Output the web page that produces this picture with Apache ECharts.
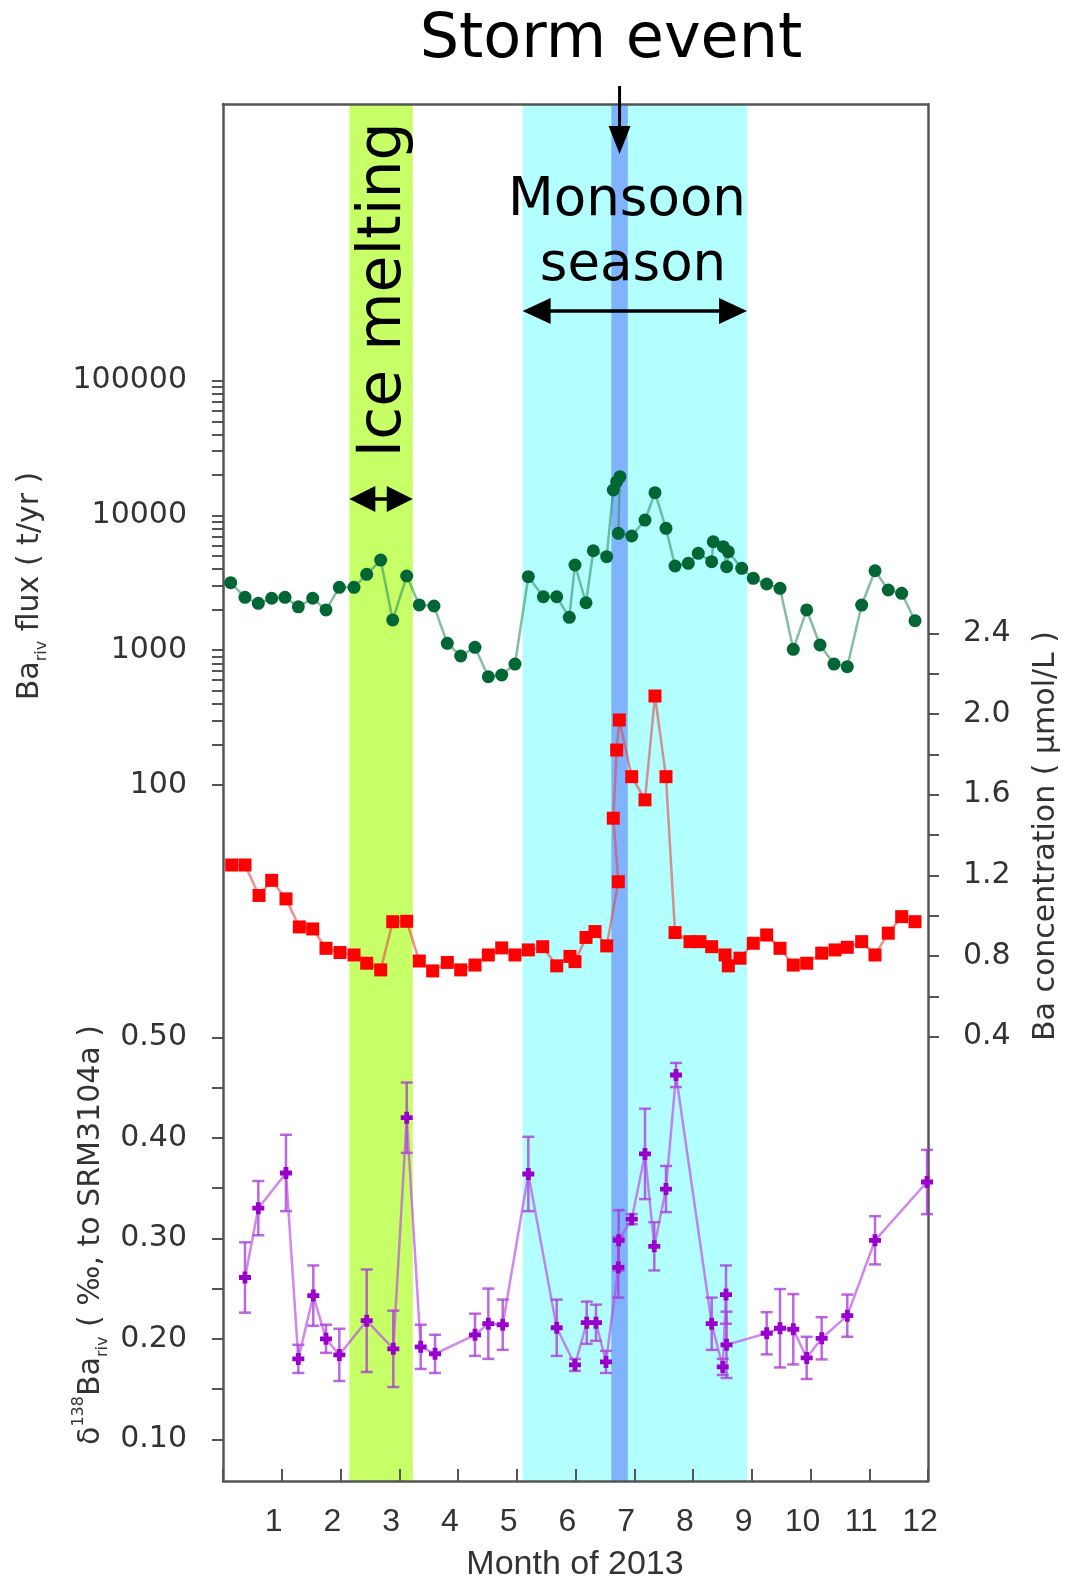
<!DOCTYPE html>
<html><head><meta charset="utf-8">
<script src="https://cdn.jsdelivr.net/npm/echarts@6/dist/echarts.min.js"></script>
<style>html,body{margin:0;padding:0;background:#fff}#c{width:1066px;height:1585px}</style>
</head><body><div id="c"></div>
<script>
// ---------------- data ----------------
const fluxMonth = [0.131,0.374,0.601,0.829,1.055,1.282,1.527,1.753,1.980,2.230,2.446,2.684,2.889,3.127,3.341,3.591,3.818,4.046,4.289,4.516,4.744,4.970,5.197,5.452,5.680,5.894,5.991,6.179,6.303,6.531,6.643,6.701,6.757,6.729,6.957,7.183,7.353,7.540,7.694,7.920,8.090,8.318,8.345,8.516,8.573,8.601,8.829,9.026,9.254,9.481,9.707,9.935,10.162,10.400,10.626,10.871,11.098,11.324,11.552,11.779];
const fluxValue = [3170,2470,2230,2430,2470,2100,2430,1990,2930,2930,3660,4670,1680,3555,2170,2130,1126,906,1051,636,655,790,3513,2495,2495,1755,4290,2252,5475,4943,15450,17800,19390,7373,7040,9250,14750,8030,4217,4416,5240,4540,6385,5865,4170,5383,4052,3418,3100,2880,1016,1990,1094,790,755,2165,3890,2798,2645,1656];

const concMonth = [0.148,0.374,0.613,0.829,1.072,1.299,1.527,1.753,1.991,2.230,2.446,2.684,2.889,3.127,3.341,3.569,3.818,4.046,4.289,4.516,4.744,4.970,5.197,5.442,5.680,5.906,5.991,6.179,6.332,6.531,6.729,6.643,6.701,6.745,6.957,7.183,7.353,7.540,7.694,7.949,8.119,8.318,8.545,8.601,8.800,9.026,9.254,9.481,9.707,9.935,10.191,10.417,10.626,10.871,11.098,11.324,11.552,11.779];
const concValue = [1.251,1.251,1.100,1.175,1.083,0.944,0.934,0.838,0.817,0.805,0.764,0.731,0.970,0.972,0.775,0.726,0.768,0.731,0.755,0.805,0.840,0.805,0.830,0.846,0.751,0.798,0.772,0.892,0.921,0.850,1.168,1.483,1.821,1.970,1.689,1.574,2.089,1.689,0.916,0.871,0.871,0.846,0.805,0.751,0.789,0.863,0.904,0.838,0.755,0.764,0.814,0.830,0.843,0.871,0.805,0.913,0.995,0.970];

const deltaMonth = [0.374,0.601,1.072,1.282,1.537,1.753,1.980,2.446,2.899,3.127,3.365,3.609,4.289,4.516,4.761,5.197,5.680,5.991,6.191,6.349,6.519,6.729,6.735,6.957,7.183,7.341,7.540,7.711,8.318,8.506,8.562,8.570,9.254,9.481,9.707,9.935,10.190,10.626,11.098,11.983];
const deltaValue = [0.261,0.330,0.365,0.180,0.243,0.200,0.184,0.218,0.190,0.420,0.192,0.185,0.204,0.215,0.214,0.364,0.211,0.174,0.216,0.216,0.177,0.271,0.298,0.319,0.384,0.292,0.349,0.4625,0.215,0.172,0.244,0.194,0.2055,0.2105,0.2095,0.181,0.2005,0.223,0.298,0.356];
const deltaErr = [0.035,0.027,0.038,0.014,0.030,0.014,0.026,0.051,0.038,0.035,0.022,0.019,0.021,0.035,0.025,0.037,0.028,0.006,0.021,0.018,0.011,0.030,0.030,0.005,0.045,0.024,0.023,0.012,0.026,0.008,0.029,0.033,0.021,0.039,0.035,0.021,0.021,0.021,0.024,0.032];

const monthTicks = [1,2,3,4,5,6,7,8,9,10,11,12];
const fluxTicks = [100,1000,10000,100000];
const concTicks = [0.4,0.8,1.2,1.6,2.0,2.4];
const deltaTicks = [0.10,0.20,0.30,0.40,0.50];

const iceMelting = [2.15, 3.23];
const monsoon = [5.10, 8.92];
const storm = [6.61, 6.89];

// ---------------- derived tick lists ----------------
const fluxMinor = [];
for (let i = 0; i < fluxTicks.length - 1; i++) for (let k = 1; k <= 9; k++) fluxMinor.push(fluxTicks[i] * k);
fluxMinor.push(fluxTicks[fluxTicks.length - 1]);
const deltaMinor = [];
for (let i = 0; i < deltaTicks.length; i++) { deltaMinor.push(deltaTicks[i]); if (i < deltaTicks.length - 1) deltaMinor.push(+((deltaTicks[i] + deltaTicks[i+1]) / 2).toFixed(3)); }
const concMinor = [];
for (let i = 0; i < concTicks.length; i++) { concMinor.push(concTicks[i]); if (i < concTicks.length - 1) concMinor.push(+((concTicks[i] + concTicks[i+1]) / 2).toFixed(3)); }

const FONT = 'DejaVu Sans';
const AX = '#555555';
const LBL = '#333333';

function renderErr(params, api) {
  const x = api.value(0), lo = api.value(1), hi = api.value(2);
  const p1 = api.coord([x, lo]), p2 = api.coord([x, hi]);
  const w = 6;
  const style = { stroke: 'rgba(165,55,215,0.75)', lineWidth: 2.5, fill: null };
  return { type: 'group', children: [
    { type: 'line', shape: { x1: p1[0], y1: p1[1], x2: p2[0], y2: p2[1] }, style },
    { type: 'line', shape: { x1: p1[0] - w, y1: p1[1], x2: p1[0] + w, y2: p1[1] }, style },
    { type: 'line', shape: { x1: p2[0] - w, y1: p2[1], x2: p2[0] + w, y2: p2[1] }, style }
  ]};
}

const chart = echarts.init(document.getElementById('c'), null, { renderer: 'canvas' });
const option = {
  animation: false,
  backgroundColor: '#ffffff',
  grid: { left: 223, right: 138, top: 104, bottom: 104, containLabel: false, outerBoundsMode: 'none' },
  xAxis: [
    { type: 'value', min: 0, max: 12, interval: 1, position: 'bottom', z: 3,
      axisLine: { show: true, onZero: false, lineStyle: { color: AX, width: 2.5 } },
      axisTick: { show: true, inside: true, length: 12, lineStyle: { color: AX, width: 2 } },
      axisLabel: { margin: 25, fontFamily: 'Liberation Sans', fontSize: 32, color: LBL, padding: [0, 16, 0, 0],
        formatter: v => (monthTicks.indexOf(v) >= 0 ? String(v) : '') },
      splitLine: { show: false } },
    { type: 'value', min: 0, max: 12, position: 'top', z: 3,
      axisLine: { show: true, onZero: false, lineStyle: { color: AX, width: 2.5 } },
      axisTick: { show: false }, axisLabel: { show: false }, splitLine: { show: false } }
  ],
  yAxis: [
    { type: 'log', min: Math.pow(10, -3.164), max: Math.pow(10, 7.053), position: 'left', z: 3,
      axisLine: { show: true, onZero: false, lineStyle: { color: AX, width: 2.5 } },
      axisTick: { show: true, inside: false, length: 11, customValues: fluxMinor, lineStyle: { color: AX, width: 2 } },
      axisLabel: { customValues: fluxTicks, margin: 36, fontFamily: FONT, fontSize: 30, color: LBL,
        formatter: v => String(Math.round(v)) },
      minorTick: { show: false }, splitLine: { show: false } },
    { type: 'value', min: 0.0585, max: 1.4287, position: 'left', z: 3,
      axisLine: { show: false, onZero: false },
      axisTick: { show: true, inside: false, length: 11, customValues: deltaMinor, lineStyle: { color: AX, width: 2 } },
      axisLabel: { customValues: deltaTicks, margin: 36, fontFamily: FONT, fontSize: 30, color: LBL,
        formatter: v => v.toFixed(2) },
      splitLine: { show: false } },
    { type: 'value', min: -1.803, max: 5.024, position: 'right', z: 3,
      axisLine: { show: true, onZero: false, lineStyle: { color: AX, width: 2.5 } },
      axisTick: { show: true, inside: false, length: 11, customValues: concMinor, lineStyle: { color: AX, width: 2 } },
      axisLabel: { customValues: concTicks, margin: 35, fontFamily: FONT, fontSize: 30, color: LBL,
        formatter: v => v.toFixed(1) },
      splitLine: { show: false } }
  ],
  series: [
    { name: 'bands', type: 'line', xAxisIndex: 0, yAxisIndex: 2, data: [], z: 1, silent: true,
      markArea: { silent: true, itemStyle: { opacity: 1 }, data: [
        [{ xAxis: iceMelting[0], itemStyle: { color: '#c6ff66' } }, { xAxis: iceMelting[1] }],
        [{ xAxis: monsoon[0], itemStyle: { color: '#b3ffff' } }, { xAxis: monsoon[1] }],
        [{ xAxis: storm[0], itemStyle: { color: '#80b3ff' } }, { xAxis: storm[1] }]
      ] } },
    { name: 'flux', type: 'line', xAxisIndex: 0, yAxisIndex: 0, z: 4,
      data: fluxMonth.map((m, i) => [m, fluxValue[i]]),
      symbol: 'circle', symbolSize: 13, itemStyle: { color: '#006633' },
      lineStyle: { color: 'rgba(50,145,100,0.6)', width: 2.5 } },
    { name: 'conc', type: 'line', xAxisIndex: 0, yAxisIndex: 2, z: 4,
      data: concMonth.map((m, i) => [m, concValue[i]]),
      symbol: 'rect', symbolSize: 13, itemStyle: { color: '#ff0000' },
      lineStyle: { color: 'rgba(225,70,70,0.6)', width: 2.5 } },
    { name: 'deltaErr', type: 'custom', xAxisIndex: 0, yAxisIndex: 1, z: 4,
      data: deltaMonth.map((m, i) => [m, deltaValue[i] - deltaErr[i], deltaValue[i] + deltaErr[i]]),
      encode: { x: 0, y: [1, 2] }, renderItem: renderErr, clip: false },
    { name: 'delta', type: 'line', xAxisIndex: 0, yAxisIndex: 1, z: 5,
      data: deltaMonth.map((m, i) => [m, deltaValue[i]]),
      symbol: 'path://M3,0h4v3h3v4h-3v3h-4v-3h-3v-4h3z', symbolSize: 12, itemStyle: { color: '#9900cc' },
      lineStyle: { color: 'rgba(185,70,230,0.65)', width: 2.5 } }
  ]
};
chart.setOption(option);

// ---------------- annotations ----------------
const px = v => chart.convertToPixel({ xAxisIndex: 0 }, v);
const sx = px((storm[0] + storm[1]) / 2);
const mL = px(monsoon[0]), mR = px(monsoon[1]);
const iL = px(iceMelting[0]), iR = px(iceMelting[1]);
const BLK = '#000000';
function dblArrow(L, R, y, head, half, w) {
  return [
    { type: 'line', shape: { x1: L + head - 4, y1: y, x2: R - head + 4, y2: y }, style: { stroke: BLK, lineWidth: w }, z: 20 },
    { type: 'polygon', shape: { points: [[L, y], [L + head, y - half], [L + head, y + half]] }, style: { fill: BLK }, z: 20 },
    { type: 'polygon', shape: { points: [[R, y], [R - head, y - half], [R - head, y + half]] }, style: { fill: BLK }, z: 20 }
  ];
}
function vText(text, x, y, size, rich, color) {
  return { type: 'text', x: x, y: y, rotation: Math.PI / 2, z: 20,
    style: { text: text, fontFamily: FONT, fontSize: size, fill: color, align: 'center', verticalAlign: 'middle',
      textAlign: 'center', textVerticalAlign: 'middle', rich: rich || {} } };
}
const nameRich = (c) => ({
  n: { fontFamily: FONT, fontSize: 30, lineHeight: 40, color: c, verticalAlign: 'middle' },
  s: { fontFamily: FONT, fontSize: 16, lineHeight: 18, color: c, verticalAlign: 'bottom' },
  p: { fontFamily: FONT, fontSize: 16, lineHeight: 18, color: c, verticalAlign: 'top' }
});
const graphics = [
  { type: 'text', x: 611, y: 41, z: 20, style: { text: 'Storm event', fontFamily: FONT, fontSize: 62, fill: BLK,
      align: 'center', verticalAlign: 'middle', textAlign: 'center', textVerticalAlign: 'middle' } },
  { type: 'line', shape: { x1: sx, y1: 86, x2: sx, y2: 132 }, style: { stroke: BLK, lineWidth: 3 }, z: 20 },
  { type: 'polygon', shape: { points: [[sx - 11, 126], [sx + 11, 126], [sx, 154]] }, style: { fill: BLK }, z: 20 },
  { type: 'text', x: 627, y: 201, z: 20, style: { text: 'Monsoon', fontFamily: FONT, fontSize: 53, fill: BLK,
      align: 'center', verticalAlign: 'middle', textAlign: 'center', textVerticalAlign: 'middle' } },
  { type: 'text', x: 633, y: 266, z: 20, style: { text: 'season', fontFamily: FONT, fontSize: 53, fill: BLK,
      align: 'center', verticalAlign: 'middle', textAlign: 'center', textVerticalAlign: 'middle' } },
  ...dblArrow(mL, mR, 311, 28, 13, 3.5),
  vText('Ice melting', 384, 290, 60, null, BLK),
  ...dblArrow(iL, iR, 499, 26, 13, 3.5),
  vText('{n|Ba}{s|riv}{n| flux ( t/yr )}', 30, 586, 30, nameRich(LBL), LBL),
  vText('{n|δ}{p|138}{n|Ba}{s|riv}{n| ( ‰, to SRM3104a )}', 91, 1235, 30, nameRich(LBL), LBL),
  vText('Ba concentration ( μmol/L )', 1046, 836, 30, null, LBL),
  { type: 'text', x: 575, y: 1565, z: 20, style: { text: 'Month of 2013', fontFamily: 'Liberation Sans', fontSize: 34, fill: LBL,
      align: 'center', verticalAlign: 'middle', textAlign: 'center', textVerticalAlign: 'middle' } }
];
chart.setOption({ graphic: graphics });
</script>
</body></html>
